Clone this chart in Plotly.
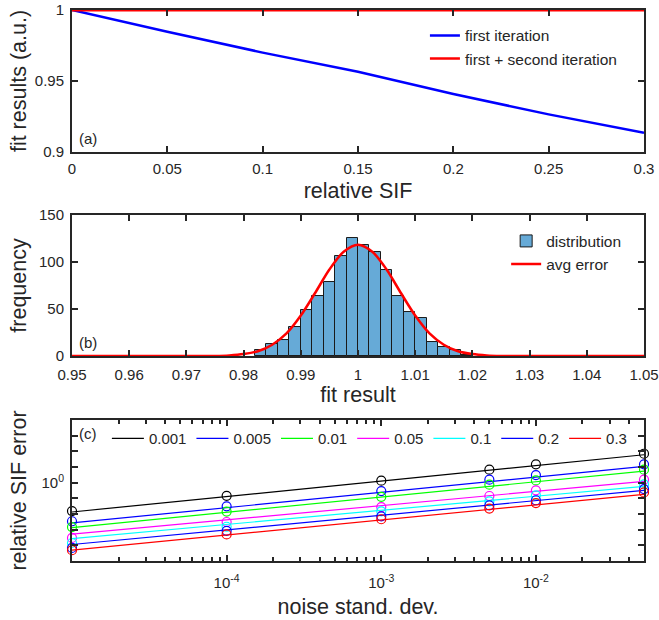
import math
import plotly.graph_objects as go

FONT = "Liberation Sans, Arial, sans-serif"
TXT = "#262626"

# ---------------- Panel (a) ----------------
rel_sif = [0.0, 0.05, 0.10, 0.15, 0.20, 0.25, 0.30]
first_iter = [1.0, 0.9847, 0.9700, 0.9565, 0.9408, 0.9265, 0.9136]
first_second_iter = [0.9999, 0.9999, 0.9999, 0.9999, 0.9999, 0.9999, 0.9999]
a_xticks = [0, 0.05, 0.1, 0.15, 0.2, 0.25, 0.3]
a_xlabels = ["0", "0.05", "0.1", "0.15", "0.2", "0.25", "0.3"]
a_yticks = [0.9, 0.95, 1.0]
a_ylabels = ["0.9", "0.95", "1"]

# ---------------- Panel (b) ----------------
bin_left = [0.982, 0.984, 0.986, 0.988, 0.990, 0.992, 0.994, 0.996, 0.998, 1.000,
            1.002, 1.004, 1.006, 1.008, 1.010, 1.012, 1.014, 1.016, 1.018]
counts = [6, 13, 17, 31, 49, 64, 79, 106, 125, 118, 111, 92, 64, 47, 40, 15, 10, 6, 1]
bin_width = 0.002
curve_x = [0.95, 0.97, 0.975, 0.9775, 0.98, 0.9825, 0.985, 0.9875, 0.99, 0.9925, 0.995,
           0.9975, 1.0, 1.0025, 1.005, 1.0075, 1.01, 1.0125, 1.015, 1.0175, 1.02,
           1.0225, 1.025, 1.03, 1.05]
curve_y = [0, 0, 0.1, 0.6, 2, 5, 12, 24, 43, 67, 92, 111, 118.5, 111, 92, 67, 43, 24,
           12, 5, 2, 0.6, 0.1, 0, 0]
b_xticks = [0.95, 0.96, 0.97, 0.98, 0.99, 1.0, 1.01, 1.02, 1.03, 1.04, 1.05]
b_xlabels = ["0.95", "0.96", "0.97", "0.98", "0.99", "1", "1.01", "1.02", "1.03", "1.04", "1.05"]
b_yticks = [0, 50, 100, 150]

# ---------------- Panel (c) ----------------
noise_sd = [1e-5, 1e-4, 1e-3, 5e-3, 1e-2, 5e-2]
sif_levels = ["0.001", "0.005", "0.01", "0.05", "0.1", "0.2", "0.3"]
level_colors = ["#000000", "#0000FF", "#00FF00", "#FF00FF", "#00FFFF", "#0000FF", "#FF0000"]
err_0001 = [0.659, 0.824, 1.03, 1.21, 1.31, 1.53]
err_0005 = [0.567, 0.706, 0.884, 1.045, 1.118, 1.31]
err_001 = [0.521, 0.654, 0.812, 0.971, 1.034, 1.21]
err_005 = [0.444, 0.561, 0.699, 0.822, 0.893, 1.045]
err_01 = [0.412, 0.523, 0.656, 0.760, 0.830, 0.975]
err_02 = [0.383, 0.493, 0.610, 0.717, 0.772, 0.910]
err_03 = [0.371, 0.467, 0.584, 0.683, 0.741, 0.867]
errors = [err_0001, err_0005, err_001, err_005, err_01, err_02, err_03]
fit_x = [1e-5, 5e-2]
fit_lo = [0.650, 0.553, 0.517, 0.469, 0.440, 0.403, 0.371]
fit_hi = [1.507, 1.270, 1.186, 1.019, 0.947, 0.893, 0.842]
c_xticks = [1e-4, 1e-3, 1e-2]
c_xlabels = ["10<sup>-4</sup>", "10<sup>-3</sup>", "10<sup>-2</sup>"]
c_xminor = [m * 10 ** e for e in range(-5, -1) for m in range(2, 10) if m * 10 ** e <= 0.05]
c_yticks = [10 ** (k / 10) for k in range(-4, 4)]
c_ylabels = ["10<sup>0</sup>" if k == 0 else "" for k in range(-4, 4)]

fig = go.Figure()

# (a)
fig.add_trace(go.Scatter(x=rel_sif, y=first_iter, mode="lines", name="first iteration",
                         line=dict(color="#0000FF", width=2.5), xaxis="x", yaxis="y",
                         legend="legend"))
fig.add_trace(go.Scatter(x=rel_sif, y=first_second_iter, mode="lines",
                         name="first + second iteration",
                         line=dict(color="#FF0000", width=2.5), xaxis="x", yaxis="y",
                         legend="legend", cliponaxis=False))

# (b)
bin_centers = [b + bin_width / 2 for b in bin_left]
fig.add_trace(go.Bar(x=bin_centers, y=counts, width=bin_width, name="distribution",
                     marker=dict(color="#66AAD7", line=dict(color="#1a1a1a", width=1)),
                     xaxis="x2", yaxis="y2", legend="legend2"))
fig.add_trace(go.Scatter(x=curve_x, y=curve_y, mode="lines", name="avg error",
                         line=dict(color="#FF0000", width=2.5, shape="spline", smoothing=0.8),
                         xaxis="x2", yaxis="y2", legend="legend2"))

# (c)
for lvl, col, err, lo, hi in zip(sif_levels, level_colors, errors, fit_lo, fit_hi):
    fig.add_trace(go.Scatter(x=fit_x, y=[lo, hi], mode="lines", name=lvl,
                             line=dict(color=col, width=1.2), xaxis="x3", yaxis="y3",
                             legend="legend3"))
    fig.add_trace(go.Scatter(x=noise_sd, y=err, mode="markers", showlegend=False,
                             marker=dict(symbol="circle-open", size=9, color=col,
                                         line=dict(width=1.2, color=col)),
                             xaxis="x3", yaxis="y3", cliponaxis=False))

axis_common = dict(showline=True, linewidth=2, linecolor=TXT, mirror="allticks",
                   ticks="inside", ticklen=6, tickwidth=2, tickcolor=TXT,
                   showgrid=False, zeroline=False, automargin=False,
                   tickfont=dict(family=FONT, size=15, color=TXT))
title_font = dict(family=FONT, size=21.5, color=TXT)

fig.update_layout(
    width=659, height=620,
    margin=dict(l=72, r=15, t=10, b=59),
    paper_bgcolor="white", plot_bgcolor="white",
    font=dict(family=FONT, color=TXT),
    barmode="overlay", bargap=0,
    xaxis=dict(**axis_common, domain=[0, 1], anchor="y", range=[0, 0.3],
               tickvals=a_xticks, ticktext=a_xlabels, ticklabelstandoff=2,
               title=dict(text="relative SIF", font=title_font, standoff=7)),
    yaxis=dict(**axis_common, domain=[0.7423, 1.0], anchor="x", range=[0.9, 1.0],
               tickvals=a_yticks, ticktext=a_ylabels, ticklabelstandoff=3,
               title=dict(text="fit results (a.u.)", font=title_font, standoff=2)),
    xaxis2=dict(**axis_common, domain=[0, 1], anchor="y2", range=[0.95, 1.05],
                tickvals=b_xticks, ticktext=b_xlabels, ticklabelstandoff=4,
                title=dict(text="fit result", font=title_font, standoff=5)),
    yaxis2=dict(**axis_common, domain=[0.3721, 0.6279], anchor="x2", range=[0, 150],
                tickvals=b_yticks, ticklabelstandoff=3,
                title=dict(text="frequency", font=title_font, standoff=6)),
    xaxis3=dict(**axis_common, domain=[0, 1], anchor="y3", type="log",
                range=[-5.0000001, math.log10(0.05) + 1e-7], tickvals=c_xticks,
                ticktext=c_xlabels, ticklabelstandoff=7,
                minor=dict(tickvals=c_xminor, ticks="inside", ticklen=4, tickwidth=1.5,
                           tickcolor=TXT, showgrid=False),
                title=dict(text="noise stand. dev.", font=title_font, standoff=9)),
    yaxis3=dict(**axis_common, domain=[0, 0.2559], anchor="x3", type="log",
                range=[-0.5, 0.4], tickvals=c_yticks, ticktext=c_ylabels,
                ticklabelstandoff=3,
                title=dict(text="relative SIF error", font=title_font, standoff=9)),
    legend=dict(x=0.617, y=0.984, xanchor="left", yanchor="top", bgcolor="rgba(0,0,0,0)",
                font=dict(family=FONT, size=15.5, color=TXT), tracegroupgap=0),
    legend2=dict(x=0.759, y=0.611, xanchor="left", yanchor="top", bgcolor="rgba(0,0,0,0)",
                 font=dict(family=FONT, size=15.5, color=TXT)),
    legend3=dict(x=0.061, y=0.252, xanchor="left", yanchor="top", orientation="h",
                 itemwidth=32, bgcolor="rgba(0,0,0,0)",
                 font=dict(family=FONT, size=15, color=TXT)),
    annotations=[
        dict(text="(a)", xref="x domain", yref="y domain", x=0.008, y=0.02,
             xanchor="left", yanchor="bottom", showarrow=False,
             font=dict(family=FONT, size=15, color=TXT)),
        dict(text="(b)", xref="x2 domain", yref="y2 domain", x=0.008, y=0.02,
             xanchor="left", yanchor="bottom", showarrow=False,
             font=dict(family=FONT, size=15, color=TXT)),
        dict(text="(c)", xref="x3 domain", yref="y3 domain", x=0.008, y=0.98,
             xanchor="left", yanchor="top", showarrow=False,
             font=dict(family=FONT, size=15, color=TXT)),
    ],
)

fig.write_html("out.html")
